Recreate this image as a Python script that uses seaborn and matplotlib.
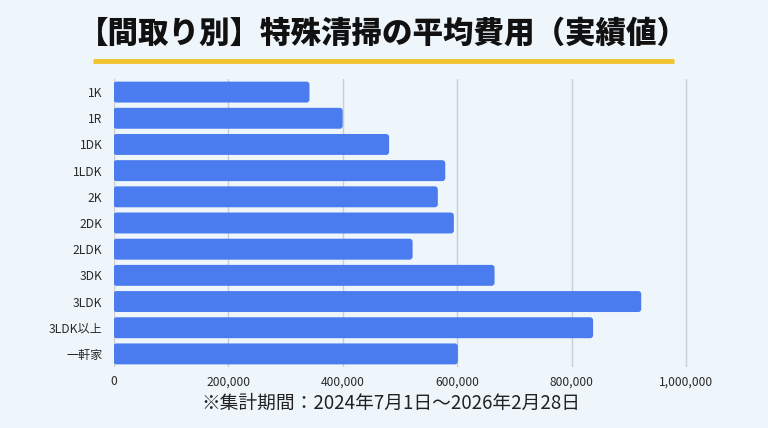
import matplotlib
matplotlib.use("Agg")
import matplotlib.pyplot as plt
import seaborn as sns
import pandas as pd
from matplotlib.ticker import FuncFormatter
from matplotlib.patches import FancyBboxPatch

categories = ["1K", "1R", "1DK", "1LDK", "2K", "2DK", "2LDK", "3DK", "3LDK", "3LDK以上", "一軒家"]
values = [342000, 400000, 481000, 579000, 566000, 594000, 522000, 665000, 921000, 837000, 601000]
x_ticks = [0, 200000, 400000, 600000, 800000, 1000000]

title = "【間取り別】特殊清掃の平均費用（実績値）"
note = "※集計期間：2024年7月1日～2026年2月28日"

sns.set_theme(style="white")
plt.rcParams['font.family'] = ['Noto Sans CJK JP', 'DejaVu Sans']

bg = "#eff6fb"
bar_color = "#4a7cf0"

df = pd.DataFrame({"cat": categories, "val": values})

fig = plt.figure(figsize=(7.68, 4.28), dpi=100)
fig.patch.set_facecolor(bg)
ax_left, ax_right, ax_top, ax_bottom = 113.5, 743.8, 79, 367
ax = fig.add_axes([ax_left / 768, 1 - ax_bottom / 428, (ax_right - ax_left) / 768, (ax_bottom - ax_top) / 428])
ax.set_facecolor(bg)

sns.barplot(data=df, x="val", y="cat", color=bar_color, saturation=1, width=0.8, ax=ax, zorder=3)

ax.set_xlim(0, 1100000)
ax.set_ylim(10.5, -0.5)

# rounded bar corners (replace the rectangles drawn by seaborn)
x_per_px = 1100000 / (ax_right - ax_left)
y_per_px = 11 / (ax_bottom - ax_top)
for p in list(ax.patches):
    rp = FancyBboxPatch((p.get_x(), p.get_y()), p.get_width(), p.get_height(),
                        boxstyle=f"round,pad=0,rounding_size={3 * x_per_px}",
                        mutation_aspect=y_per_px / x_per_px,
                        facecolor=bar_color, edgecolor="none", zorder=3)
    p.set_visible(False)
    ax.add_patch(rp)

ax.set_xticks(x_ticks)
ax.xaxis.set_major_formatter(FuncFormatter(lambda v, _: f"{int(v):,}"))
ax.grid(axis="x", color="#c9ced3", linewidth=1, zorder=0)
ax.grid(axis="y", visible=False)
for s in ax.spines.values():
    s.set_visible(False)
ax.tick_params(axis="both", length=0, labelsize=8.7, colors="#2a2a2a")
ax.tick_params(axis="y", pad=8)
ax.tick_params(axis="x", pad=6)
ax.set_xlabel("")
ax.set_ylabel("")

fig.text(0.5 - 1 / 768, 1 - 33 / 428, title, ha="center", va="center", fontsize=22,
         fontweight="heavy", color="#111111")
fig.add_artist(plt.Line2D([93 / 768, 674 / 768], [1 - 61 / 428, 1 - 61 / 428],
                          color="#f2c230", linewidth=3.5, solid_capstyle="butt"))
fig.text(391 / 768, 1 - 403 / 428, note, ha="center", va="center", fontsize=13.5,
         color="#222222")

fig.savefig("out.png", dpi=100, facecolor=bg)
